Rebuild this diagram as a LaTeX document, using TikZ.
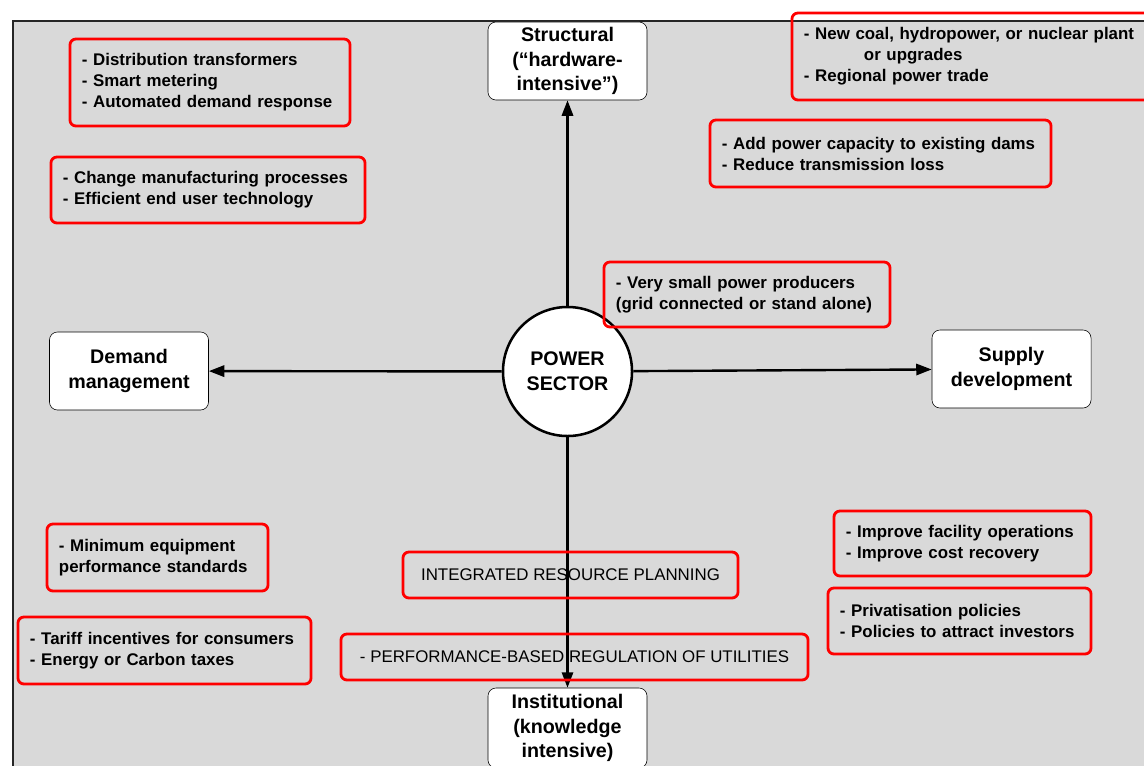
\documentclass[tikz,border=0pt]{standalone}
\usepackage{fontspec}
\setmainfont{Liberation Sans}
\usepackage{xcolor}
\usetikzlibrary{arrows.meta}
\definecolor{panelgray}{HTML}{D9D9D9}

\begin{document}
\begin{tikzpicture}[x=0.025cm, y=-0.025cm,
  axisbox/.style={draw, fill=white, rounded corners=0.2cm, align=center,
    font=\fontsize{14}{17.5}\selectfont\bfseries,
    minimum width=3.975cm, minimum height=1.95cm, inner sep=2pt},
  redbox/.style={draw=red, line width=2pt, rounded corners=0.15cm, align=left,
    inner xsep=0.3cm, inner ysep=2pt, font=\fontsize{12}{14.9}\selectfont\bfseries},
  capsbox/.style={redbox, font=\fontsize{12}{14.9}\selectfont},
  flow/.style={line width=1.7pt, -{Triangle[length=11pt,width=8pt]}}]

  % Page and panel
  \useasboundingbox (0,0) rectangle (1144,765);
  \clip (0,0) rectangle (1144,765);
  \fill[white] (0,0) rectangle (1144,765);
  \fill[panelgray] (13,21) rectangle (1150,775);
  \draw[line width=1.5pt, black!85] (13,775) -- (13,21) -- (1150,21);

  % Centre and the four directions
  \node[circle, draw, line width=1.8pt, fill=white, minimum size=3.225cm, align=center,
    font=\fontsize{14}{17.7}\selectfont\bfseries] (hub) at (567.5,371.5) {POWER\\SECTOR};
  \node[axisbox] (structural) at (567.5,61) {Structural\\(“hardware-\\intensive”)};
  \node[axisbox, minimum height=2cm] (institutional) at (567.5,728) {Institutional\\(knowledge\\intensive)};
  \node[axisbox] (demand) at (129,371) {Demand\\management};
  \node[axisbox] (supply) at (1011.5,369) {Supply\\development};

  % Arrows
  \draw[flow] (hub) -- (structural);
  \draw[flow] (hub) -- (institutional);
  \draw[flow] (hub) -- (demand);
  \draw[flow] (hub) -- (supply);

  % Demand side options
  \node[redbox, text width=6.4cm, minimum width=7cm, minimum height=2.175cm] (metering) at (210,82.5)
    {- Distribution transformers\\- Smart metering\\- Automated demand response};
  \node[redbox, text width=7.25cm, minimum width=7.85cm, minimum height=1.65cm] (enduse) at (208,190)
    {- Change manufacturing processes\\- Efficient end user technology};
  \node[redbox, text width=4.925cm, minimum width=5.525cm, minimum height=1.675cm] (standards) at (157.5,557.5)
    {- Minimum equipment\\performance standards};
  \node[redbox, text width=6.725cm, minimum width=7.325cm, minimum height=1.675cm] (tariffs) at (164.5,650.5)
    {- Tariff incentives for consumers\\- Energy or Carbon taxes};

  % Supply side options
  \node[redbox, text width=8.6cm, minimum width=9.2cm, minimum height=2.175cm] (newplant) at (976,56.5)
    {- New coal, hydropower, or nuclear plant\\\hspace*{1.5cm}or upgrades\\- Regional power trade};
  \node[redbox, text width=7.925cm, minimum width=8.525cm, minimum height=1.675cm] (dams) at (880.5,153.5)
    {- Add power capacity to existing dams\\- Reduce transmission loss};
  \node[redbox, text width=6.55cm, minimum width=7.15cm, minimum height=1.625cm] (vspp) at (747,294.5)
    {- Very small power producers\\(grid connected or stand alone)};
  \node[redbox, text width=5.825cm, minimum width=6.425cm, minimum height=1.625cm] (operations) at (962.5,543.5)
    {- Improve facility operations\\- Improve cost recovery};
  \node[redbox, text width=5.975cm, minimum width=6.575cm, minimum height=1.65cm] (investors) at (959.5,621)
    {- Privatisation policies\\- Policies to attract investors};

  % Institutional options
  \node[capsbox, minimum width=8.375cm, minimum height=1.15cm] (irp) at (570.5,575)
    {INTEGRATED RESOURCE PLANNING};
  \node[capsbox, minimum width=11.675cm, minimum height=1.15cm] (pbr) at (574.5,657)
    {- PERFORMANCE-BASED REGULATION OF UTILITIES};

\end{tikzpicture}
\end{document}
